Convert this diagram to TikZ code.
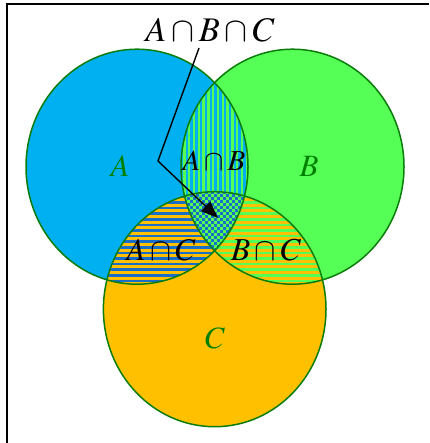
\documentclass[tikz,border=0pt]{standalone}
\usepackage{mathptmx}
\usepackage{graphicx}
\usetikzlibrary{arrows.meta}
\definecolor{cA}{RGB}{0,176,240}
\definecolor{cB}{RGB}{85,255,85}
\definecolor{cC}{RGB}{255,192,0}
\definecolor{dblue}{RGB}{25,110,200}
\definecolor{edge}{RGB}{10,125,10}
\definecolor{lbl}{RGB}{0,128,0}
\tikzset{
  pA/.style={insert path={(137,166.7) ellipse [x radius=111, y radius=117.5]}},
  pB/.style={insert path={(292.5,166.7) ellipse [x radius=111.5, y radius=117.5]}},
  pC/.style={insert path={(214.7,309.2) ellipse [x radius=111.3, y radius=117.5]}},
  setlbl/.style={text=lbl, inner sep=0pt},
  intlbl/.style={text=black, inner sep=0pt},
  outline/.style={draw=edge, line width=1.5pt},
}
\begin{document}
\begin{tikzpicture}[x=1pt,y=-1pt]
\useasboundingbox (0,0) rectangle (429,443);
\fill[white] (0,0) rectangle (429,443);
% frame
\draw[line width=2pt] (7,443) -- (7,4) -- (429,4);
% base fills
\fill[cA, pA];
\fill[cB, pB];
\fill[cC, pC];
% A cap B : vertical stripes
\begin{scope}
  \clip[pA]; \clip[pB];
  \fill[cB] (170,40) rectangle (260,300);
  \foreach \x in {176,180.8,...,260} \fill[cA] (\x,40) rectangle (\x+2.4,300);
\end{scope}
% A cap C : horizontal stripes blue / yellow
\begin{scope}
  \clip[pA]; \clip[pC];
  \fill[cC] (90,180) rectangle (260,300);
  \foreach \y in {190,195.6,...,300} \fill[dblue] (90,\y) rectangle (260,\y+2.6);
\end{scope}
% B cap C : horizontal stripes green / yellow
\begin{scope}
  \clip[pB]; \clip[pC];
  \fill[cC] (170,180) rectangle (340,300);
  \foreach \y in {190,195.6,...,300} \fill[cB] (170,\y) rectangle (340,\y+2.6);
\end{scope}
% A cap B cap C : checkerboard
\begin{scope}
  \clip[pA]; \clip[pB]; \clip[pC];
  \fill[cB] (175,185) rectangle (255,250);
  \foreach \x in {175,181,...,255}
    \foreach \y in {185,191,...,250}
      {\fill[dblue] (\x,\y) rectangle +(3,3); \fill[dblue] (\x+3,\y+3) rectangle +(3,3);}
\end{scope}
% outlines
\draw[outline, pA];
\draw[outline, pB];
\draw[outline, pC];
% labels
\node[setlbl] (la) at (120,166) {\scalebox{3.1}{$A$}};
\node[setlbl] (lb) at (309,166) {\scalebox{3.1}{$B$}};
\node[setlbl] (lc) at (215,338) {\scalebox{3.1}{$C$}};
\node[intlbl] (lab) at (214,161) {\scalebox{2.9}{$A\cap B$}};
\node[intlbl] (lac) at (161,250) {\scalebox{3.15}{$A\cap C$}};
\node[intlbl] (lbc) at (266,250) {\scalebox{3.2}{$B\cap C$}};
\node[intlbl] (labc) at (210,30) {\scalebox{3.45}{$A\cap B\cap C$}};
% arrow
\coordinate (s) at (199,48);
\coordinate (bend) at (158,161);
\coordinate (tip) at (218,218);
\draw[line width=1.4pt, -{Triangle[length=17pt,width=13pt]}] (s) -- (bend) -- (tip);
\end{tikzpicture}
\end{document}
